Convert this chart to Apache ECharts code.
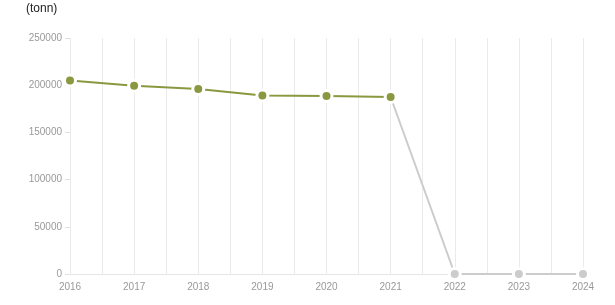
<!DOCTYPE html>
<html>
<head>
<meta charset="utf-8">
<script src="https://cdn.jsdelivr.net/npm/echarts@6/dist/echarts.min.js"></script>
<style>html,body{margin:0;padding:0;background:#fff;}#c{width:615px;height:305px;}</style>
</head>
<body>
<div id="c"></div>
<script>
const years = [2016, 2017, 2018, 2019, 2020, 2021, 2022, 2023, 2024];
const actualValues = [205000, 199500, 196000, 189000, 188500, 187500];
const projectedYears = [2021, 2022, 2023, 2024];
const projectedValues = [187500, 0, 0, 0];
const yTicks = [0, 50000, 100000, 150000, 200000, 250000];
const unitLabel = '(tonn)';

const actualData = actualValues.map((v, i) => [years[i], v]);
const projectedData = projectedValues.map((v, i) => [projectedYears[i], v]);

const chart = echarts.init(document.getElementById('c'), null, {renderer: 'canvas'});
chart.setOption({
  animation: false,
  textStyle: {fontFamily: 'Liberation Sans, Arial, sans-serif'},
  title: {
    text: unitLabel, left: 21, top: -2,
    textStyle: {fontSize: 12, fontWeight: 'normal', color: '#222'}
  },
  grid: {left: 70, right: 32, top: 38, bottom: 31, containLabel: false},
  xAxis: {
    type: 'value', min: years[0], max: years[years.length - 1], interval: 0.5,
    axisLine: {show: true, lineStyle: {color: '#e6e6e6'}},
    axisTick: {show: false},
    axisLabel: {
      color: '#999', fontSize: 10, margin: 8,
      formatter: v => Number.isInteger(v) ? String(v) : ''
    },
    splitLine: {show: true, lineStyle: {color: '#ebebeb', width: 1}}
  },
  yAxis: {
    type: 'value', min: yTicks[0], max: yTicks[yTicks.length - 1], interval: 50000,
    axisLine: {show: false},
    axisTick: {show: true, length: 5, lineStyle: {color: '#e0e0e0'}},
    axisLabel: {color: '#999', fontSize: 10, margin: 8, formatter: v => String(v)},
    splitLine: {show: false}
  },
  series: [
    {
      type: 'line', data: projectedData, z: 2,
      lineStyle: {color: '#cccccc', width: 2},
      itemStyle: {color: '#cccccc', borderColor: '#fff', borderWidth: 3},
      symbol: 'circle', symbolSize: (v, p) => p.dataIndex === 0 ? 0 : 11,
      showSymbol: true
    },
    {
      type: 'line', data: actualData, z: 3,
      lineStyle: {color: '#8a983f', width: 2},
      itemStyle: {color: '#8a983f', borderColor: '#fff', borderWidth: 3},
      symbol: 'circle', symbolSize: 11,
      showSymbol: true
    }
  ]
});
</script>
</body>
</html>
